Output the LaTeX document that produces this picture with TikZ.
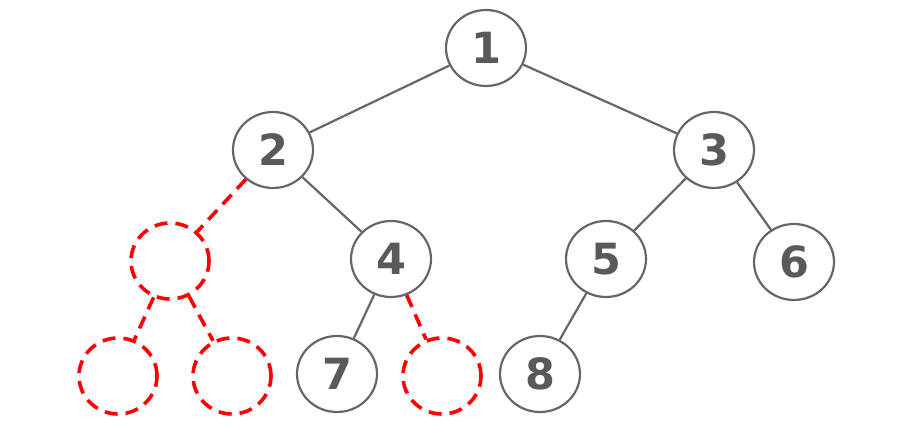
\documentclass[tikz,border=0pt]{standalone}
\usepackage{fontspec}
\setmainfont{DejaVu Sans}
\usepackage{tikz}
\usetikzlibrary{shapes.geometric}
\definecolor{treegray}{HTML}{666666}
\definecolor{numgray}{HTML}{595959}
\tikzset{
  tnode/.style={ellipse, draw=treegray, line width=2.2pt, minimum width=80pt, minimum height=76pt, inner sep=0pt, text=numgray, font=\fontsize{43}{43}\selectfont\bfseries},
  gnode/.style={ellipse, draw=red, line width=3.6pt, dash pattern=on 13pt off 8pt, minimum width=78pt, minimum height=76pt, inner sep=0pt},
  tedge/.style={draw=treegray, line width=2.2pt},
  gedge/.style={draw=red, line width=3.6pt, dash pattern=on 13pt off 8pt}
}
\begin{document}
\begin{tikzpicture}[x=1pt, y=-1pt]
\useasboundingbox (0,0) rectangle (897,435);
% real nodes
\node[tnode] (n1) at (486,48) {1};
\node[tnode] (n2) at (273,150) {2};
\node[tnode] (n3) at (714,150) {3};
\node[tnode] (n4) at (391,259) {4};
\node[tnode] (n5) at (606,259) {5};
\node[tnode] (n6) at (794,262) {6};
\node[tnode] (n7) at (337,374) {7};
\node[tnode] (n8) at (540,374) {8};
% missing nodes
\node[gnode] (g1) at (170,261) {};
\node[gnode] (g2) at (118,376) {};
\node[gnode] (g3) at (232,376) {};
\node[gnode] (g4) at (442,376) {};
% edges
\draw[tedge] (n1) -- (n2);
\draw[tedge] (n1) -- (n3);
\draw[tedge] (n2) -- (n4);
\draw[tedge] (n3) -- (n5);
\draw[tedge] (n3) -- (n6);
\draw[tedge] (n4) -- (n7);
\draw[tedge] (n5) -- (n8);
\draw[gedge] (n2) -- (g1);
\draw[gedge] (g1) -- (g2);
\draw[gedge] (g1) -- (g3);
\draw[gedge] (n4) -- (g4);
\end{tikzpicture}
\end{document}
